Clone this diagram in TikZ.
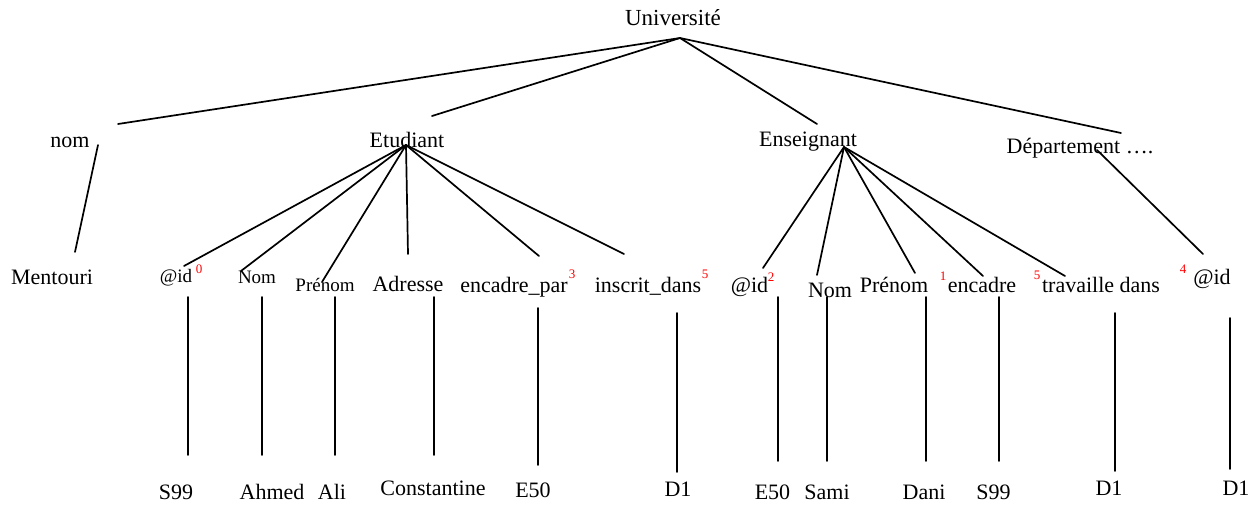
\documentclass[tikz,border=0pt]{standalone}
\usepackage{fontspec}
\setmainfont{Liberation Serif}
\begin{document}
\begin{tikzpicture}[x=1pt,y=-1pt,
  lbl/.style={anchor=base,inner sep=0pt,font=\fontsize{22}{26}\selectfont},
  slbl/.style={lbl,font=\fontsize{19}{22}\selectfont},
  idx/.style={anchor=base,inner sep=0pt,text=red,font=\fontsize{13}{15}\selectfont},
  edge/.style={line width=1.7pt,line cap=round}]
\useasboundingbox (0,0) rectangle (1258,504);

% ---- level 0 and 1 ----
\node[lbl,font=\fontsize{23}{27}\selectfont] (univ) at (673,25) {Université};
\node[lbl] (nom) at (70,147) {nom};
\node[lbl] (etu) at (407,147) {Etudiant};
\node[lbl] (ens) at (808,146) {Enseignant};
\node[lbl] (dep) at (1080,153) {Département ….};

% ---- level 2 ----
\node[lbl]  (mentouri) at (52,284) {Mentouri};
\node[slbl] (eid)  at (176,282) {@id};
\node[slbl] (enom) at (257,283) {Nom};
\node[slbl] (epre) at (325,291) {Prénom};
\node[lbl]  (eadr) at (408,291) {Adresse};
\node[lbl]  (eenc) at (514,292) {encadre\_par};
\node[lbl]  (eins) at (648,292) {inscrit\_dans};
\node[lbl]  (pid)  at (749.5,292) {@id};
\node[lbl]  (pnom) at (830,297) {Nom};
\node[lbl]  (ppre) at (894,292) {Prénom};
\node[lbl]  (penc) at (982,292) {encadre};
\node[lbl]  (ptra) at (1101,292) {travaille dans};
\node[lbl]  (did)  at (1212,284) {@id};

% ---- red indices ----
\node[idx] (k0) at (199,273) {0};
\node[idx] (k3) at (572,278) {3};
\node[idx] (k5a) at (705,278) {5};
\node[idx] (k2) at (771,281) {2};
\node[idx] (k1) at (943,280) {1};
\node[idx] (k5b) at (1037,279) {5};
\node[idx] (k4) at (1183,273) {4};

% ---- level 3 values ----
\node[lbl] (v1)  at (176,499) {S99};
\node[lbl] (v2)  at (272,499) {Ahmed};
\node[lbl] (v3)  at (332,499) {Ali};
\node[lbl] (v4)  at (433,495) {Constantine};
\node[lbl] (v5)  at (533,497) {E50};
\node[lbl] (v6)  at (678,496) {D1};
\node[lbl] (v7)  at (772.5,499) {E50};
\node[lbl] (v8)  at (827,499) {Sami};
\node[lbl] (v9)  at (924,499) {Dani};
\node[lbl] (v10) at (993.5,499) {S99};
\node[lbl] (v11) at (1109,495) {D1};
\node[lbl] (v12) at (1236,495) {D1};

% ---- connector end points ----
\coordinate (univ-s) at (680,38);
\coordinate (nom-n) at (118,124);
\coordinate (etu-n) at (432,116);
\coordinate (ens-n) at (817,124);
\coordinate (dep-n) at (1121,133);
\coordinate (nom-s) at (98,145);
\coordinate (mentouri-n) at (75,252);
\coordinate (etu-s) at (406,145);
\coordinate (eid-n) at (184,266);
\coordinate (enom-n) at (241,271);
\coordinate (epre-n) at (322,282);
\coordinate (eadr-n) at (408,254);
\coordinate (eenc-n) at (539,256);
\coordinate (eins-n) at (624,254);
\coordinate (ens-s) at (844,147);
\coordinate (pid-n) at (763,268);
\coordinate (pnom-n) at (817,275);
\coordinate (ppre-n) at (915,273);
\coordinate (penc-n) at (983,276);
\coordinate (ptra-n) at (1065,276);
\coordinate (dep-s) at (1097,150);
\coordinate (did-n) at (1203,254);

\coordinate (eid-s) at (188,297);   \coordinate (v1-n) at (188,455);
\coordinate (enom-s) at (262,297);  \coordinate (v2-n) at (262,455);
\coordinate (epre-s) at (335,297);  \coordinate (v3-n) at (335,455);
\coordinate (eadr-s) at (434,297);  \coordinate (v4-n) at (434,455);
\coordinate (eenc-s) at (538,308);  \coordinate (v5-n) at (538,465);
\coordinate (eins-s) at (677,313);  \coordinate (v6-n) at (677,472);
\coordinate (pid-s) at (778,297);   \coordinate (v7-n) at (778,461);
\coordinate (pnom-s) at (827,297);  \coordinate (v8-n) at (827,461);
\coordinate (ppre-s) at (926,297);  \coordinate (v9-n) at (926,461);
\coordinate (penc-s) at (999,297);  \coordinate (v10-n) at (999,461);
\coordinate (ptra-s) at (1115,313); \coordinate (v11-n) at (1115,471);
\coordinate (did-s) at (1230,318);  \coordinate (v12-n) at (1230,469);

% ---- connectors ----
\foreach \t in {nom-n,etu-n,ens-n,dep-n}
  \draw[edge] (univ-s) -- (\t);
\draw[edge] (nom-s) -- (mentouri-n);
\foreach \t in {eid-n,enom-n,epre-n,eadr-n,eenc-n,eins-n}
  \draw[edge] (etu-s) -- (\t);
\foreach \t in {pid-n,pnom-n,ppre-n,penc-n,ptra-n}
  \draw[edge] (ens-s) -- (\t);
\draw[edge] (dep-s) -- (did-n);
\foreach \a/\b in {eid-s/v1-n,enom-s/v2-n,epre-s/v3-n,eadr-s/v4-n,eenc-s/v5-n,
  eins-s/v6-n,pid-s/v7-n,pnom-s/v8-n,ppre-s/v9-n,penc-s/v10-n,ptra-s/v11-n,did-s/v12-n}
  \draw[edge] (\a) -- (\b);
\end{tikzpicture}
\end{document}
